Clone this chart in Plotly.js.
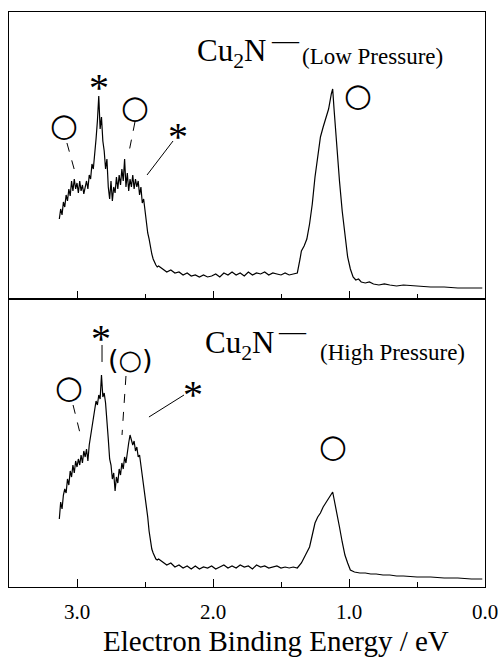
<!DOCTYPE html>
<html>
<head>
<meta charset="utf-8">
<script src="https://cdn.plot.ly/plotly-3.0.1.min.js"></script>
<style>html,body{margin:0;padding:0;background:#fff;}#chart{width:498px;height:657px;}</style>
</head>
<body>
<div id="chart"></div>
<script>
// Electron binding energy (eV) and intensity (arb. units) — Low Pressure
const lowEnergy = [3.13,3.12,3.11,3.10,3.09,3.08,3.07,3.06,3.05,3.04,3.03,3.02,3.01,3.00,2.99,2.98,2.97,2.96,2.95,2.94,2.93,2.92,2.91,2.90,2.89,2.88,2.87,2.86,2.85,2.84,2.83,2.82,2.81,2.80,2.79,2.78,2.77,2.76,2.75,2.74,2.73,2.72,2.71,2.70,2.69,2.68,2.67,2.66,2.65,2.64,2.63,2.62,2.61,2.60,2.59,2.58,2.57,2.56,2.55,2.54,2.53,2.52,2.51,2.50,2.49,2.48,2.47,2.46,2.45,2.44,2.43,2.42,2.41,2.40,
2.37,2.34,2.31,2.28,2.25,2.22,2.19,2.16,2.13,2.10,2.07,2.04,2.01,1.98,1.95,1.92,1.89,1.86,1.83,1.80,1.77,1.74,1.71,1.68,1.65,1.62,1.59,1.56,1.53,1.50,1.47,1.44,1.41,1.38,
1.36,1.35,1.33,1.31,1.29,1.27,1.25,1.23,1.21,1.19,1.17,1.15,1.13,1.12,1.11,1.09,1.07,1.05,1.03,1.01,0.99,0.97,0.95,0.93,0.91,0.88,0.85,0.82,0.78,0.74,0.70,0.65,0.60,0.50,0.40,0.30,0.20,0.10,0.02];
const lowIntensity = [80,90,84,97,92,104,98,110,103,118,108,120,110,116,106,118,108,114,105,112,118,110,124,120,135,130,150,160,178,203,170,182,158,148,130,140,112,100,118,98,112,106,122,110,124,114,130,118,140,112,126,108,120,112,124,110,120,112,118,104,112,96,100,88,78,66,60,50,45,40,36,34,32,33,
30,27,29,26,27,24,26,23,24,22,24,22,23,25,22,26,24,27,24,26,23,27,24,26,25,27,24,26,25,24,26,24,25,26,
40,48,53,60,75,95,122,145,162,172,180,190,205,210,190,152,118,88,62,42,30,22,19,20,17,16,17,15,14,15,14,13,14,13,12,12,11,11,11];

// High Pressure
const highEnergy = [3.13,3.12,3.11,3.10,3.09,3.08,3.07,3.06,3.05,3.04,3.03,3.02,3.01,3.00,2.99,2.98,2.97,2.96,2.95,2.94,2.93,2.92,2.91,2.90,2.89,2.88,2.87,2.86,2.85,2.84,2.83,2.82,2.81,2.80,2.79,2.78,2.77,2.76,2.75,2.74,2.73,2.72,2.71,2.70,2.69,2.68,2.67,2.66,2.65,2.64,2.63,2.62,2.61,2.60,2.59,2.58,2.57,2.56,2.55,2.54,2.53,2.52,2.51,2.50,2.49,2.48,2.47,2.46,2.45,2.44,2.43,2.42,2.41,2.40,
2.37,2.34,2.31,2.28,2.25,2.22,2.19,2.16,2.13,2.10,2.07,2.04,2.01,1.98,1.95,1.92,1.89,1.86,1.83,1.80,1.77,1.74,1.71,1.68,1.65,1.62,1.59,1.56,1.53,1.50,1.47,1.44,1.41,1.38,
1.35,1.32,1.29,1.27,1.25,1.23,1.21,1.19,1.17,1.15,1.13,1.12,1.11,1.09,1.07,1.05,1.03,1.01,0.99,0.96,0.92,0.88,0.84,0.80,0.75,0.70,0.65,0.60,0.50,0.40,0.30,0.20,0.10,0.02];
const highIntensity = [68,85,78,92,98,94,108,102,116,110,122,114,126,120,128,122,132,124,136,130,138,126,142,150,158,168,176,186,182,192,188,212,190,194,184,160,148,128,122,108,114,96,110,104,118,112,124,118,130,124,136,144,152,148,142,146,136,140,130,132,122,114,100,92,80,70,56,46,38,34,30,28,27,28,
25,22,24,20,22,19,21,18,21,18,20,19,21,18,20,22,19,21,19,22,20,21,18,22,20,21,19,20,21,19,20,19,20,19,
24,32,40,52,64,70,74,80,84,88,93,95,88,75,60,45,32,24,17,15,14,14,13,13,12,12,11,11,10,10,9,9,8,8];

const xTickVals = [3.0, 2.0, 1.0, 0.0];
const xTickText = ['3.0', '2.0', '1.0', '0.0'];
const xTitle = 'Electron Binding Energy / eV';

const serif = 'Liberation Serif, Times New Roman, serif';

const traces = [
  {x: highEnergy, y: highIntensity, xaxis: 'x', yaxis: 'y', type: 'scatter', mode: 'lines',
   line: {color: '#000', width: 1.2}, hoverinfo: 'skip'},
  {x: lowEnergy, y: lowIntensity, xaxis: 'x2', yaxis: 'y2', type: 'scatter', mode: 'lines',
   line: {color: '#000', width: 1.2}, hoverinfo: 'skip'}
];

const axisCommon = {
  range: [3.5, 0], showgrid: false, zeroline: false, showline: true, mirror: true,
  linecolor: '#000', linewidth: 1, ticks: 'inside', ticklen: 8, tickcolor: '#000',
  tickvals: xTickVals, ticktext: xTickText,
  minor: {tickvals: [2.5, 1.5, 0.5], ticks: 'inside', ticklen: 5, tickcolor: '#000'}
};
const yCommon = {showgrid: false, zeroline: false, showline: true, mirror: true, linecolor: '#000',
  linewidth: 1, ticks: '', showticklabels: false, fixedrange: true};

function ann(text, x, y, xref, yref, size, opts) {
  return Object.assign({text: text, x: x, y: y, xref: xref, yref: yref, showarrow: false,
    font: {family: serif, size: size, color: '#000'}, xanchor: 'center', yanchor: 'middle'}, opts || {});
}
const circ = {family: 'DejaVu Sans', size: 32, color: '#000'};

function seg(x0, y0, x1, y1, xref, yref, dash) {
  return {type: 'line', x0: x0, y0: y0, x1: x1, y1: y1, xref: xref, yref: yref,
    line: {color: '#000', width: 1, dash: dash ? 'dash' : 'solid'}};
}

const layout = {
  width: 498, height: 657,
  margin: {l: 9, r: 13, t: 12, b: 70},
  paper_bgcolor: '#fff', plot_bgcolor: '#fff', showlegend: false,
  xaxis: Object.assign({}, axisCommon, {anchor: 'y', showticklabels: true, ticklabeloverflow: 'allow',
    ticklabelstandoff: 6,
    tickfont: {family: serif, size: 21, color: '#000'}}),
  xaxis2: Object.assign({}, axisCommon, {anchor: 'y2', matches: 'x', showticklabels: false}),
  yaxis: Object.assign({}, yCommon, {domain: [0, 0.5009], range: [0, 288]}),
  yaxis2: Object.assign({}, yCommon, {domain: [0.5009, 1], range: [0, 287]}),
  annotations: [
    // axis title
    ann(xTitle, 0.561, -0.0939, 'paper', 'paper', 29, {borderpad: 0}),
    // upper panel
    ann('Cu<sub>2</sub>N', 2.132, 246, 'x2', 'y2', 31, {xanchor: 'left'}),
    ann('—', 1.585, 259, 'x2', 'y2', 27, {xanchor: 'left'}),
    ann('(Low Pressure)', 1.360, 243, 'x2', 'y2', 23, {xanchor: 'left'}),
    ann('○', 3.096, 174, 'x2', 'y2', 32, {font: circ}),
    ann('○', 2.574, 192, 'x2', 'y2', 32, {font: circ}),
    ann('○', 0.934, 204, 'x2', 'y2', 32, {font: circ}),
    ann('*', 2.838, 212, 'x2', 'y2', 40),
    ann('*', 2.257, 162, 'x2', 'y2', 40),
    // lower panel
    ann('Cu<sub>2</sub>N', 2.074, 242, 'x', 'y', 31, {xanchor: 'left'}),
    ann('—', 1.540, 256, 'x', 'y', 27, {xanchor: 'left'}),
    ann('(High Pressure)', 1.228, 234, 'x', 'y', 23, {xanchor: 'left'}),
    ann('*', 2.824, 248, 'x', 'y', 40),
    ann('(○)', 2.610, 227, 'x', 'y', 27, {font: {family: 'DejaVu Sans', size: 27, color: '#000'}}),
    ann('○', 3.059, 200, 'x', 'y', 32, {font: circ}),
    ann('*', 2.147, 192, 'x', 'y', 40),
    ann('○', 1.118, 141, 'x', 'y', 32, {font: circ})
  ],
  shapes: [
    seg(3.074, 156, 3.015, 127, 'x2', 'y2', true),
    seg(2.574, 177, 2.625, 142, 'x2', 'y2', true),
    seg(2.294, 158, 2.485, 124, 'x2', 'y2', false),
    seg(2.816, 242, 2.816, 225, 'x', 'y', false),
    seg(3.029, 182, 2.978, 154, 'x', 'y', true),
    seg(2.640, 211, 2.669, 152, 'x', 'y', true),
    seg(2.213, 192, 2.471, 170, 'x', 'y', false)
  ]
};

Plotly.newPlot('chart', traces, layout, {staticPlot: true, displayModeBar: false});
</script>
</body>
</html>
